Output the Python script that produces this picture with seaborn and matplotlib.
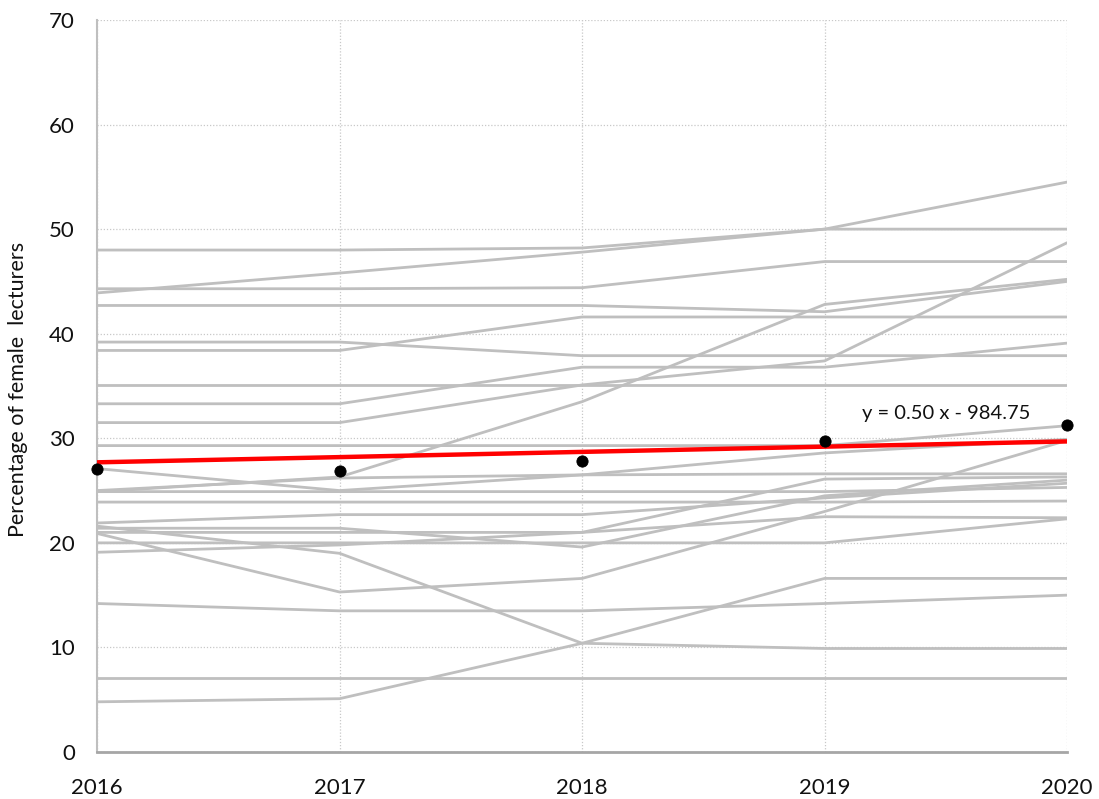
import pandas as pd
import matplotlib
matplotlib.use("Agg")
import matplotlib.pyplot as plt
import seaborn as sns

# =============== DATA ===============
years = [2016, 2017, 2018, 2019, 2020]

# share of female lecturers per institution, one list per year (same order)
pct_2016 = [48.0, 43.9, 44.3, 42.7, 39.2, 38.4, 35.1, 33.3, 31.5, 29.3, 27.1, 24.9, 24.9,
            23.9, 21.9, 21.4, 21.0, 21.6, 20.9, 20.0, 19.1, 14.2, 7.1, 4.8, 25.0]
pct_2017 = [48.0, 45.8, 44.3, 42.7, 39.2, 38.4, 35.1, 33.3, 31.5, 29.3, 25.0, 26.3, 24.9,
            23.9, 22.7, 21.4, 21.0, 19.0, 15.3, 20.0, 19.8, 13.5, 7.1, 5.1, 26.2]
pct_2018 = [48.2, 47.8, 44.4, 42.7, 37.9, 41.6, 35.1, 36.8, 35.1, 29.3, 26.5, 33.5, 24.9,
            23.9, 22.7, 19.6, 21.0, 10.4, 16.6, 20.0, 21.0, 13.5, 7.1, 10.4, 26.5]
pct_2019 = [50.0, 50.0, 46.9, 42.1, 37.9, 41.6, 35.1, 36.8, 37.4, 29.3, 28.6, 42.8, 24.9,
            23.9, 24.3, 24.5, 26.1, 9.9, 23.0, 20.0, 22.5, 14.2, 7.1, 16.6, 26.6]
pct_2020 = [50.0, 54.5, 46.9, 45.0, 37.9, 41.6, 35.1, 39.1, 48.7, 31.2, 29.9, 45.2, 25.3,
            24.0, 25.7, 26.0, 26.3, 9.9, 29.8, 22.3, 22.4, 15.0, 7.1, 16.6, 26.6]

# yearly average (black dots)
mean_pct = [27.1, 26.9, 27.8, 29.7, 31.3]

# linear trend line (red), end points
trend_years = [2016, 2020]
trend_pct = [27.7, 29.7]
trend_label = "y = 0.50 x - 984.75"

# =============== BUILD LONG TABLE ===============
rows = []
for yr, vals in zip(years, [pct_2016, pct_2017, pct_2018, pct_2019, pct_2020]):
    for inst, v in enumerate(vals):
        rows.append({"inst": inst, "year": yr, "pct": v})
df = pd.DataFrame(rows)
df_mean = pd.DataFrame({"year": years, "pct": mean_pct})
df_trend = pd.DataFrame({"year": trend_years, "pct": trend_pct})

# =============== PLOT ===============
sns.set_style("white")
plt.rcParams["font.family"] = ["Lato", "DejaVu Sans"]

fig = plt.figure(figsize=(10.99, 7.99), dpi=100)
ax = fig.add_axes([0.0883, 0.0588, 0.8827, 0.9162])

sns.lineplot(data=df, x="year", y="pct", units="inst", estimator=None,
             color="#bfbfbf", linewidth=2.0, ax=ax, zorder=2)
sns.lineplot(data=df_trend, x="year", y="pct", color="#ff0000",
             linewidth=3.2, ax=ax, zorder=3)
sns.scatterplot(data=df_mean, x="year", y="pct", color="black", s=65,
                edgecolor="black", ax=ax, zorder=4, clip_on=False)

ax.text(2019.85, 32.4, trend_label, fontsize=14.5, color="#111111",
        ha="right", va="center")

ax.set_xlim(2016, 2020)
ax.set_ylim(0, 70)
ax.set_xticks(years)
ax.set_yticks(range(0, 71, 10))
ax.set_xlabel("")
ax.set_ylabel("Percentage of female  lecturers", fontsize=15.5, color="#111111")
ax.yaxis.set_label_coords(-0.071, 0.495)

ax.grid(True, linestyle=(0, (1, 1.5)), color="#c8c8c8", linewidth=0.9)
ax.set_axisbelow(True)
ax.tick_params(axis="both", length=0, labelsize=16, colors="#111111")
ax.tick_params(axis="y", pad=16)
ax.tick_params(axis="x", pad=19)

for side in ["top", "right"]:
    ax.spines[side].set_visible(False)
ax.spines["left"].set_color("#bfbfbf")
ax.spines["left"].set_linewidth(1.5)
ax.spines["bottom"].set_color("#a6a6a6")
ax.spines["bottom"].set_linewidth(2.0)

if ax.get_legend() is not None:
    ax.get_legend().remove()

plt.savefig("out.png", dpi=100)
